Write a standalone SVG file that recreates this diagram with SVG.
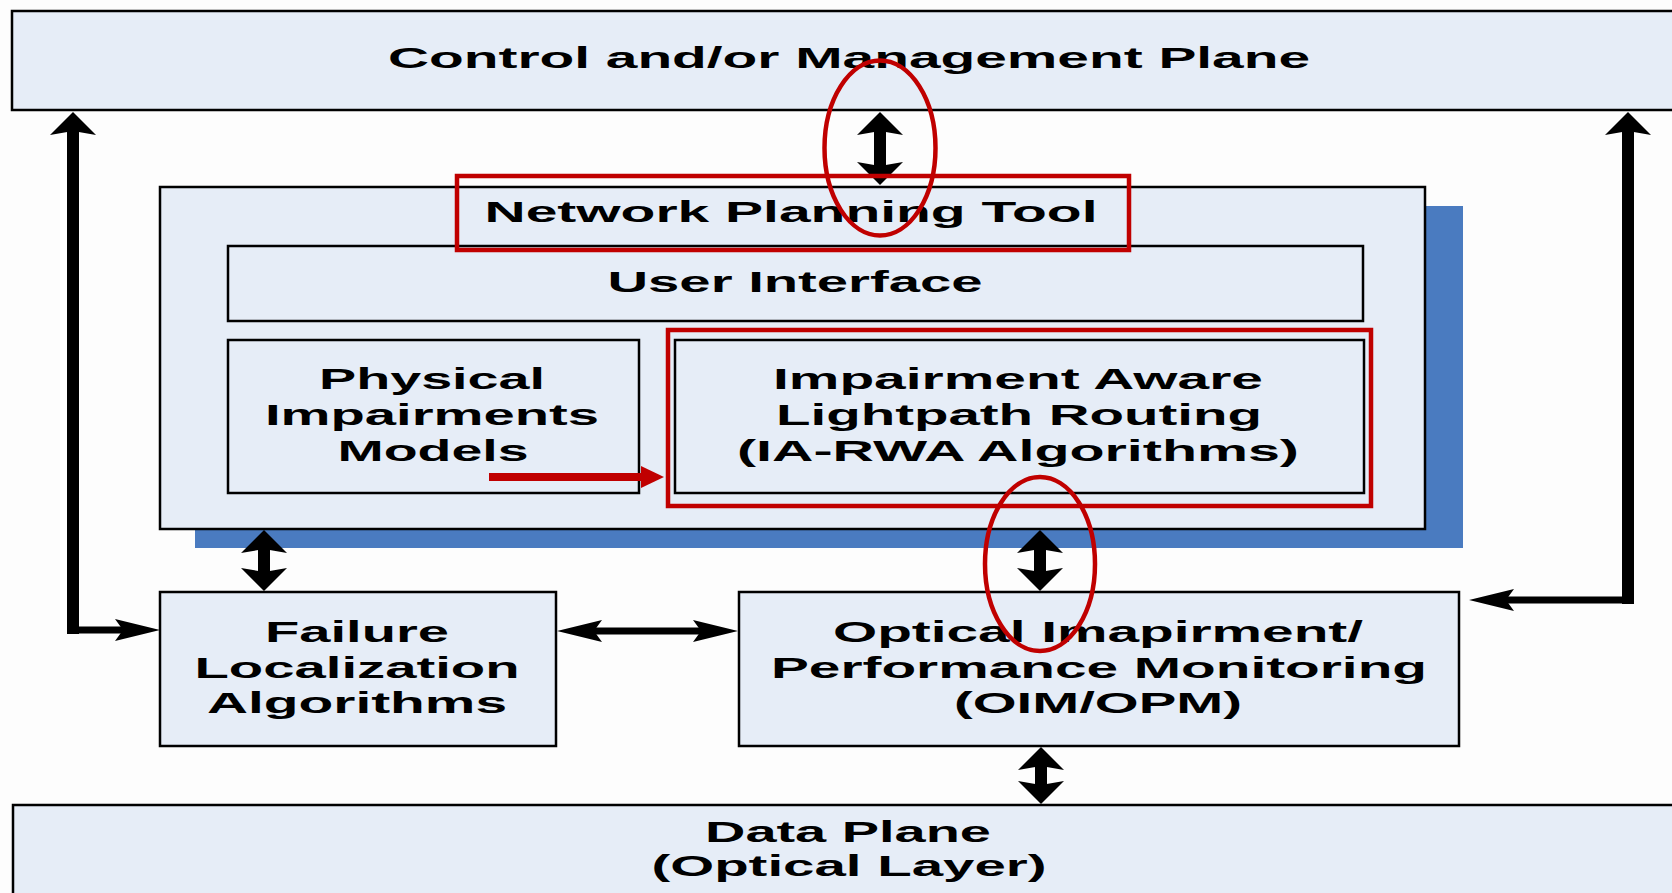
<svg xmlns="http://www.w3.org/2000/svg" width="1672" height="893" viewBox="0 0 1672 893">
<style>
.box{fill:#E6EDF7;stroke:#000;stroke-width:2.5}
.t{font-family:"Liberation Sans",Arial,sans-serif;font-weight:bold;font-size:29px;fill:#000;text-anchor:middle}
.v{stroke:#000;stroke-width:12;fill:none}
.h{stroke:#000;stroke-width:7;fill:none}
.red{fill:none;stroke:#C00000;stroke-width:4.5}
</style>
<defs>
<marker id="hv" markerUnits="userSpaceOnUse" markerWidth="24" markerHeight="46" viewBox="0 -23 24 46" refX="4" refY="0" orient="auto-start-reverse" overflow="visible"><path d="M0,-23 L23,0 L0,23 L4,0 Z" fill="#000"/></marker>
<marker id="hh" markerUnits="userSpaceOnUse" markerWidth="46" markerHeight="22" viewBox="0 -11 46 22" refX="8" refY="0" orient="auto-start-reverse" overflow="visible"><path d="M0,-11 L45,0 L0,11 L8,0 Z" fill="#000"/></marker>
<marker id="hr" markerUnits="userSpaceOnUse" markerWidth="24" markerHeight="22" viewBox="0 -11 24 22" refX="0" refY="0" orient="auto" overflow="visible"><path d="M0,-11 L23,0 L0,11 Z" fill="#C00000"/></marker>
</defs>
<rect width="1672" height="893" fill="#FDFDFD"/>

<g id="control-plane">
<rect class="box" x="12" y="11" width="1680" height="99"/>
<text class="t" x="849" y="68" textLength="922" lengthAdjust="spacingAndGlyphs">Control and/or Management Plane</text>
</g>

<g id="data-plane">
<rect class="box" x="13" y="805" width="1680" height="100"/>
<text class="t" x="848" y="842" textLength="286" lengthAdjust="spacingAndGlyphs">Data Plane</text>
<text class="t" x="849" y="876" textLength="395" lengthAdjust="spacingAndGlyphs">(Optical Layer)</text>
</g>

<g id="network-planning-tool">
<rect x="195" y="206" width="1268" height="342" fill="#4A7BC0"/>
<rect class="box" x="160" y="187" width="1265" height="342"/>
<text class="t" x="791" y="222" textLength="613" lengthAdjust="spacingAndGlyphs">Network Planning Tool</text>
</g>

<g id="user-interface">
<rect class="box" x="228" y="246" width="1135" height="75"/>
<text class="t" x="795" y="292" textLength="375" lengthAdjust="spacingAndGlyphs">User Interface</text>
</g>

<g id="physical-impairments-models">
<rect class="box" x="228" y="340" width="411" height="153"/>
<text class="t" x="432" y="389" textLength="226" lengthAdjust="spacingAndGlyphs">Physical</text>
<text class="t" x="432" y="425" textLength="334" lengthAdjust="spacingAndGlyphs">Impairments</text>
<text class="t" x="433" y="461" textLength="191" lengthAdjust="spacingAndGlyphs">Models</text>
</g>

<g id="ia-rwa">
<rect class="box" x="675" y="340" width="689" height="153"/>
<text class="t" x="1018" y="389" textLength="490" lengthAdjust="spacingAndGlyphs">Impairment Aware</text>
<text class="t" x="1019" y="425" textLength="486" lengthAdjust="spacingAndGlyphs">Lightpath Routing</text>
<text class="t" x="1018" y="461" textLength="562" lengthAdjust="spacingAndGlyphs">(IA-RWA Algorithms)</text>
</g>

<g id="failure-localization">
<rect class="box" x="160" y="592" width="396" height="154"/>
<text class="t" x="357" y="642" textLength="184" lengthAdjust="spacingAndGlyphs">Failure</text>
<text class="t" x="357" y="678" textLength="325" lengthAdjust="spacingAndGlyphs">Localization</text>
<text class="t" x="357" y="713" textLength="300" lengthAdjust="spacingAndGlyphs">Algorithms</text>
</g>

<g id="oim-opm">
<rect class="box" x="739" y="592" width="720" height="154"/>
<text class="t" x="1098" y="642" textLength="530" lengthAdjust="spacingAndGlyphs">Optical Imapirment/</text>
<text class="t" x="1099" y="678" textLength="656" lengthAdjust="spacingAndGlyphs">Performance Monitoring</text>
<text class="t" x="1098" y="713" textLength="288" lengthAdjust="spacingAndGlyphs">(OIM/OPM)</text>
</g>

<g id="connectors">
<path class="v" d="M880,131 L880,166" marker-start="url(#hv)" marker-end="url(#hv)"/>
<path class="v" d="M264,549 L264,572" marker-start="url(#hv)" marker-end="url(#hv)"/>
<path class="v" d="M1040,549 L1040,572" marker-start="url(#hv)" marker-end="url(#hv)"/>
<path class="v" d="M1041,766 L1041,785" marker-start="url(#hv)" marker-end="url(#hv)"/>
<path class="v" d="M73,131 L73,634" marker-start="url(#hv)"/>
<path class="h" d="M67,630 L123,630" marker-end="url(#hh)"/>
<path class="v" d="M1628,131 L1628,604" marker-start="url(#hv)"/>
<path class="h" d="M1634,600 L1506,600" marker-end="url(#hh)"/>
<path class="h" d="M594,631 L701,631" marker-start="url(#hh)" marker-end="url(#hh)"/>
</g>

<g id="annotations">
<rect class="red" x="457" y="176" width="672" height="74"/>
<rect class="red" x="668" y="330" width="703" height="176"/>
<ellipse class="red" cx="880" cy="148" rx="55.5" ry="87.5"/>
<ellipse class="red" cx="1040" cy="564" rx="55" ry="87"/>
<path d="M489,477 L641,477" stroke="#C00000" stroke-width="8" fill="none" marker-end="url(#hr)"/>
</g>
</svg>
